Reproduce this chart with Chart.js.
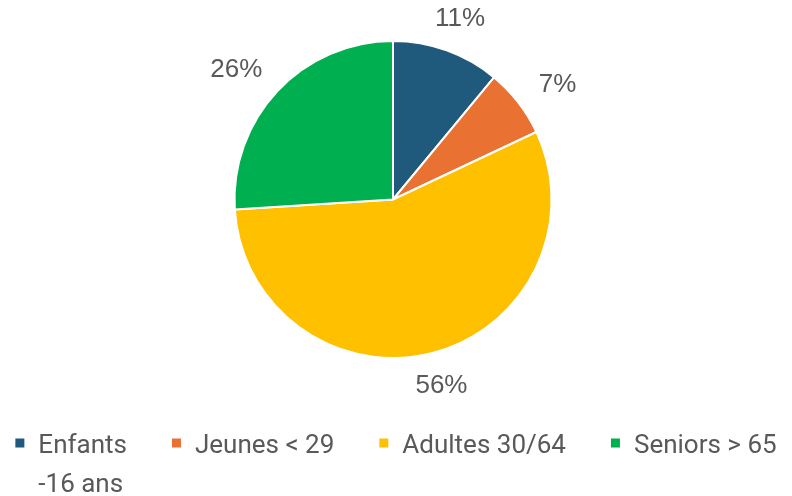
<!DOCTYPE html>
<html lang="fr">
<head>
    <meta charset="UTF-8">
    <title>Répartition par âge</title>
    <script src="https://cdn.jsdelivr.net/npm/chart.js"></script>
    <style>
        html, body { margin: 0; padding: 0; background: #ffffff; }
        #wrap { width: 792px; height: 496px; }
    </style>
</head>
<body>
    <div id="wrap"><canvas id="myChart" width="792" height="496"></canvas></div>

    <script>
        // données du graphique
        const categories = [['Enfants', '-16 ans'], ['Jeunes < 29'], ['Adultes 30/64'], ['Seniors > 65']];
        const values = [11, 7, 56, 26];
        const colors = ['#1f5a7d', '#e97132', '#ffc000', '#00b050'];

        const textColor = '#595959';

        // étiquettes des pourcentages à l'extérieur du camembert
        const outsideLabels = {
            id: 'outsideLabels',
            afterDatasetsDraw(chart) {
                const ctx = chart.ctx;
                const meta = chart.getDatasetMeta(0);
                const total = values.reduce((a, b) => a + b, 0);
                ctx.save();
                ctx.font = '26px "Liberation Sans", Arial, sans-serif';
                ctx.fillStyle = textColor;
                ctx.textAlign = 'center';
                ctx.textBaseline = 'middle';
                meta.data.forEach((arc, i) => {
                    const p = arc.getProps(['x', 'y', 'startAngle', 'endAngle', 'outerRadius'], true);
                    const mid = (p.startAngle + p.endAngle) / 2;
                    const txt = Math.round(values[i] / total * 100) + '%';
                    const w = ctx.measureText(txt).width, h = 24;
                    const c = Math.cos(mid), s = Math.sin(mid);
                    const x = p.x + c * (p.outerRadius + 26 + 0.8 * w * Math.abs(c));
                    const y = p.y + s * (p.outerRadius + 22 + h / 2 * Math.abs(s));
                    ctx.fillText(txt, x, y);
                });
                ctx.restore();
            }
        };

        // légende en bas, avec retour à la ligne pour le premier libellé
        const bottomLegend = {
            id: 'bottomLegend',
            afterDraw(chart) {
                const ctx = chart.ctx;
                const box = 9, gapText = 14, gapItem = 45, lineH = 39;
                const top = 446;
                ctx.save();
                ctx.font = '26px Roboto, "Liberation Sans", sans-serif';
                ctx.textBaseline = 'middle';
                ctx.textAlign = 'left';
                const widths = categories.map(lines => Math.max(...lines.map(l => ctx.measureText(l).width)));
                let total = 0;
                widths.forEach(w => { total += box + gapText + w; });
                total += gapItem * (widths.length - 1);
                let x = (chart.width - total) / 2;
                categories.forEach((lines, i) => {
                    ctx.fillStyle = colors[i];
                    ctx.fillRect(x, top - box / 2 - 3, box, box);
                    ctx.fillStyle = textColor;
                    lines.forEach((l, j) => ctx.fillText(l, x + box + gapText, top + j * lineH));
                    x += box + gapText + widths[i] + gapItem;
                });
                ctx.restore();
            }
        };

        new Chart(document.getElementById('myChart'), {
            type: 'pie',
            data: {
                labels: categories.map(l => l.join(' ')),
                datasets: [{
                    data: values,
                    backgroundColor: colors,
                    borderColor: '#ffffff',
                    borderWidth: 2
                }]
            },
            options: {
                responsive: false,
                animation: false,
                layout: { padding: { top: 40, bottom: 137, left: 0, right: 6 } },
                plugins: {
                    legend: { display: false },
                    tooltip: { enabled: false }
                }
            },
            plugins: [outsideLabels, bottomLegend]
        });
    </script>
</body>
</html>
